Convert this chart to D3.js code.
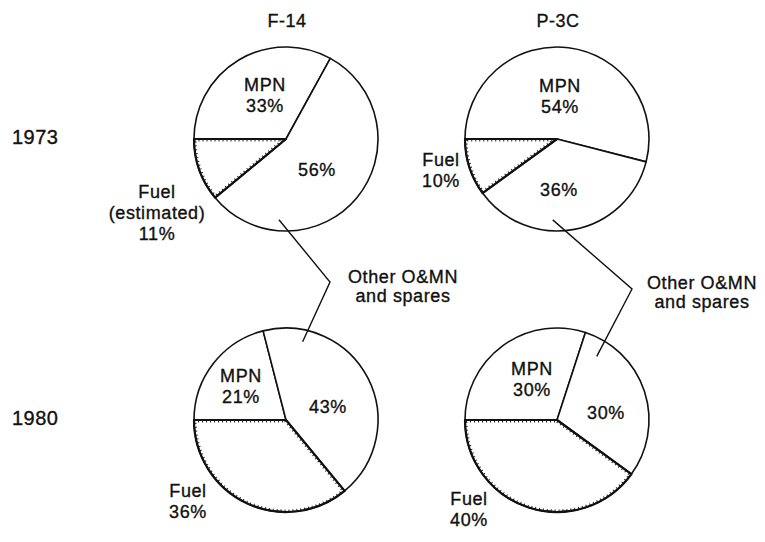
<!DOCTYPE html>
<html><head><meta charset="utf-8">
<script src="https://cdn.jsdelivr.net/npm/d3@7"></script>
<style>
html,body{margin:0;padding:0;background:#fff;}
text{font-family:"Liberation Sans",Arial,sans-serif;fill:#111;stroke:#111;stroke-width:0.35px;}
</style></head>
<body><svg id="c" width="765" height="542"></svg>
<script>
// ---- data ----
const aircraft = ["F-14", "P-3C"];
const years = ["1973", "1980"];
const categories = ["MPN", "Other O&MN and spares", "Fuel"];
const f14_1973 = [33, 56, 11];
const p3c_1973 = [54, 36, 10];
const f14_1980 = [21, 43, 36];
const p3c_1980 = [30, 30, 40];
const fuelNote = ["(estimated)", "", "", ""];

// ---- layout ----
const W = 765, H = 542, R = 92;
const svg = d3.select("#c");
const x = d3.scalePoint().domain(aircraft).range([286, 557]);
const y = d3.scalePoint().domain(years).range([139, 420]);

const pies = [
  {ac: "F-14", yr: "1973", vals: f14_1973, note: fuelNote[0]},
  {ac: "P-3C", yr: "1973", vals: p3c_1973, note: fuelNote[1]},
  {ac: "F-14", yr: "1980", vals: f14_1980, note: fuelNote[2]},
  {ac: "P-3C", yr: "1980", vals: p3c_1980, note: fuelNote[3]}
];
// label offsets (first-line baseline) relative to pie centre: [MPN, Other, Fuel]
const labelPos = [
  [[-21, -48], [31, 37], [-129, 59]],
  [[3, -47], [2, 57], [-116, 27]],
  [[-45, -38], [42, -7], [-98, 77]],
  [[-25, -45], [49, -1], [-88, 85]]
];
const LH = 21;

const pieGen = d3.pie().sort(null).value(d => d).startAngle(-Math.PI / 2).endAngle(1.5 * Math.PI);
const arc = d3.arc().innerRadius(0).outerRadius(R);

// column titles
svg.selectAll("text.title").data(aircraft).join("text")
  .attr("class", "title").attr("x", d => x(d) + 1).attr("y", 27)
  .attr("text-anchor", "middle").style("font-size", "18px").style("letter-spacing", "0.5px")
  .text(d => d);
// year labels
svg.selectAll("text.year").data(years).join("text")
  .attr("class", "year").attr("x", 12).attr("y", d => y(d) + 5)
  .style("font-size", "20px").style("letter-spacing", "0.5px")
  .text(d => d);

const defs = svg.append("defs");

pies.forEach((p, i) => {
  const cx = x(p.ac), cy = y(p.yr);
  const g = svg.append("g").attr("transform", `translate(${cx},${cy})`);
  const arcs = pieGen(p.vals);
  const fuel = arcs[2];
  defs.append("clipPath").attr("id", "fc" + i).append("path").attr("d", arc(fuel));
  g.selectAll("path.slice").data(arcs).join("path")
    .attr("class", "slice").attr("d", arc)
    .attr("fill", "#fff").attr("stroke", "#111").attr("stroke-width", 1.6)
    .attr("stroke-linejoin", "round");
  // stippled inner edge of fuel slice
  g.append("path").attr("d", arc(fuel)).attr("clip-path", `url(#fc${i})`)
    .attr("fill", "none").attr("stroke", "#222").attr("stroke-width", 5)
    .attr("stroke-dasharray", "1 3");
  g.append("path").attr("d", arc(fuel)).attr("fill", "none")
    .attr("stroke", "#111").attr("stroke-width", 2.2).attr("stroke-linejoin", "round");

  const lp = labelPos[i];
  const lines = [
    ["MPN", p.vals[0] + "%"],
    [p.vals[1] + "%"],
    p.note ? ["Fuel", p.note, p.vals[2] + "%"] : ["Fuel", p.vals[2] + "%"]
  ];
  lines.forEach((ls, k) => {
    const t = g.append("text").attr("text-anchor", "middle")
      .style("font-size", "18px").style("letter-spacing", "0.6px");
    ls.forEach((s, j) => {
      t.append("tspan").attr("x", lp[k][0]).attr("y", lp[k][1] + j * LH).text(s);
    });
  });
});

// callouts for "Other O&MN and spares"
const callouts = [
  {ac: "F-14", from: [185, 81], elbow: [330, 282], to: [12, 80], text: [403, 283]},
  {ac: "P-3C", from: [183, 81], elbow: [632, 289], to: [32, 75], text: [702, 289]}
];
const pt = (cx, cy, a, r) => [cx + r * Math.sin(a * Math.PI / 180), cy - r * Math.cos(a * Math.PI / 180)];
callouts.forEach(c => {
  const a = pt(x(c.ac), y("1973"), c.from[0], c.from[1]);
  const b = pt(x(c.ac), y("1980"), c.to[0], c.to[1]);
  svg.append("path").attr("d", d3.line()([a, c.elbow, b]))
    .attr("fill", "none").attr("stroke", "#111").attr("stroke-width", 1.4);
  const t = svg.append("text").attr("text-anchor", "middle")
    .style("font-size", "18px").style("letter-spacing", "0.6px");
  ["Other O&MN", "and spares"].forEach((s, j) =>
    t.append("tspan").attr("x", c.text[0]).attr("y", c.text[1] + j * 19).text(s));
});
</script></body></html>
